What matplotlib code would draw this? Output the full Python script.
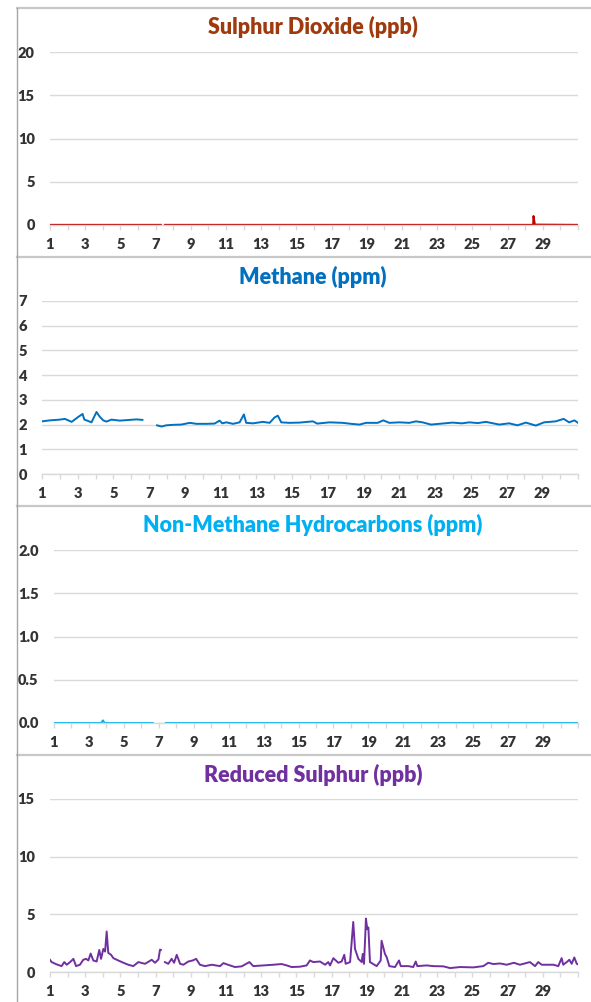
import numpy as np
from matplotlib import pyplot as plt
from matplotlib.lines import Line2D

plt.rcParams['font.family'] = ['Lato', 'DejaVu Sans']
plt.rcParams['font.weight'] = 'heavy'

# ---- data (day of month, value); NaN = gap in record ----
so2_day = [1.0, 7.3, 7.4, 7.53, 28.45, 28.47, 28.55, 31.0]
so2_val = [0.02, 0.02, np.nan, 0.02, 0.02, 1.04, 0.05, 0.02]

ch4_day = [1.0, 1.43, 2.0, 2.28, 2.66, 3.03, 3.27, 3.37, 3.53, 3.77, 4.05, 4.24, 4.43, 4.61,
           4.89, 5.36, 5.92, 6.29, 6.62, 7.0,
           7.44, 7.69, 7.96, 8.34, 8.8, 9.27, 9.64, 10.2, 10.66, 10.94, 11.09, 11.32, 11.69,
           12.06, 12.3, 12.43, 12.81, 13.36, 13.74, 14.02, 14.2, 14.39, 14.85, 15.41, 16.16,
           16.4, 17.09, 17.83, 18.3, 18.77, 19.14, 19.79, 20.1, 20.44, 21.0, 21.56, 21.93, 22.3,
           22.77, 23.23, 23.98, 24.5, 24.91, 25.4, 25.84, 26.59, 27.15, 27.61, 28.08, 28.64,
           29.1, 29.75, 30.2, 30.5, 30.8, 31.0]
ch4_val = [2.13, 2.17, 2.2, 2.23, 2.11, 2.31, 2.43, 2.2, 2.16, 2.09, 2.51, 2.31, 2.17, 2.12,
           2.2, 2.16, 2.19, 2.21, 2.19, np.nan,
           1.97, 1.92, 1.97, 1.99, 2.0, 2.07, 2.03, 2.03, 2.04, 2.16, 2.05, 2.09, 2.03,
           2.09, 2.41, 2.07, 2.05, 2.11, 2.07, 2.29, 2.36, 2.09, 2.07, 2.08, 2.13,
           2.04, 2.09, 2.07, 2.03, 2.0, 2.07, 2.07, 2.17, 2.07, 2.09, 2.07, 2.13, 2.09,
           2.0, 2.03, 2.08, 2.05, 2.09, 2.06, 2.11, 2.0, 2.05, 1.97, 2.08, 1.96,
           2.09, 2.13, 2.23, 2.09, 2.17, 2.07]

nmhc_day = [1.0, 3.7, 3.8, 3.9, 6.66, 7.0, 7.4, 31.0]
nmhc_val = [0.0, 0.0, 0.03, 0.0, 0.0, np.nan, 0.0, 0.0]

trs_day = [1.0, 1.09, 1.38, 1.66, 1.81, 1.95, 2.14, 2.33, 2.48, 2.7, 2.89, 3.05, 3.18, 3.31,
           3.46, 3.65, 3.8, 3.9, 4.03, 4.13, 4.22, 4.31, 4.47, 4.6, 4.88, 5.17, 5.45, 5.73,
           6.02, 6.4, 6.78, 6.97, 7.16, 7.25, 7.3, 7.4,
           7.53, 7.72, 7.91, 8.05, 8.2, 8.39, 8.58, 8.86, 9.11, 9.3, 9.52, 9.81, 10.19, 10.66,
           10.85, 11.23, 11.51, 11.89, 12.33, 12.55, 13.12, 13.69, 14.16, 14.45, 14.73, 15.2,
           15.58, 15.77, 15.96, 16.34, 16.63, 16.81, 16.91, 17.1, 17.38, 17.57, 17.72, 17.8,
           18.05, 18.23, 18.33, 18.52, 18.71, 18.77, 18.84, 18.92, 18.95, 19.03, 19.09, 19.18,
           19.56, 19.79, 19.84, 20.03, 20.13, 20.28, 20.6, 20.83, 20.93, 21.36, 21.64, 21.78,
           21.87, 22.4, 22.78, 23.35, 23.73, 24.3, 25.05, 25.62, 25.9, 26.19, 26.57, 26.95,
           27.36, 27.7, 28.27, 28.56, 28.74, 28.94, 29.6, 29.88, 30.07, 30.16, 30.36, 30.51,
           30.64, 30.79, 30.93, 31.0]
trs_val = [1.06, 0.86, 0.66, 0.51, 0.86, 0.63, 0.86, 1.14, 0.51, 0.63, 1.06, 1.14, 1.0, 1.6,
           1.0, 0.91, 1.91, 1.14, 2.0, 1.77, 3.51, 1.66, 1.49, 1.2, 1.0, 0.8, 0.63, 0.51,
           0.86, 0.71, 1.06, 0.8, 1.09, 1.94, 1.91, np.nan,
           0.86, 0.71, 1.14, 0.8, 1.49, 0.71, 0.63, 0.91, 1.0, 1.14, 0.63, 0.51, 0.63, 0.51,
           0.77, 0.57, 0.43, 0.49, 0.86, 0.51, 0.57, 0.63, 0.69, 0.57, 0.43, 0.46,
           0.57, 1.0, 0.86, 0.91, 0.63, 0.86, 0.57, 1.2, 0.8, 0.91, 1.49, 0.71,
           0.86, 4.34, 2.0, 1.14, 0.86, 1.57, 0.71, 3.43, 4.63, 3.71, 3.86, 0.86,
           0.51, 1.0, 2.71, 1.57, 1.29, 0.51, 0.43, 1.0, 0.51, 0.51, 0.43, 0.91,
           0.51, 0.57, 0.51, 0.49, 0.34, 0.43, 0.4, 0.51, 0.8, 0.69, 0.74, 0.63,
           0.8, 0.63, 0.86, 0.51, 0.86, 0.63, 0.63, 0.51, 1.2, 0.63, 0.86, 1.06,
           0.71, 1.26, 0.71, 0.66]

days = list(range(1, 32))
day_labels = [str(d) if d % 2 == 1 and d < 31 else '' for d in days]

W, H = 591, 1002
fig = plt.figure(figsize=(W / 100, H / 100), dpi=100)
GRID = '#D9D9D9'
TXT = '#333333'


def make_panel(x0, x1, y_top, y_bot, title, title_y, color, line_color, xs, ys, ymax, ystep, fmt):
    ax = fig.add_axes([x0 / W, 1 - y_bot / H, (x1 - x0) / W, (y_bot - y_top) / H])
    ax.plot(xs, ys, color=line_color, lw=1.4)
    ax.set_xlim(1, 31)
    ax.set_ylim(0, ymax)
    yt = np.arange(0, ymax + ystep / 2, ystep)
    ax.set_yticks(yt)
    ax.set_yticklabels([fmt.format(v) for v in yt])
    ax.set_xticks(days)
    ax.set_xticklabels(day_labels)
    for s in ['top', 'right', 'left']:
        ax.spines[s].set_visible(False)
    ax.spines['bottom'].set_color(GRID)
    ax.spines['bottom'].set_linewidth(1.0)
    ax.grid(axis='y', color=GRID, lw=1.0)
    ax.set_axisbelow(True)
    ax.tick_params(axis='y', length=0, pad=11, labelsize=10.5, labelcolor=TXT)
    ax.tick_params(axis='x', length=3.5, width=1, color=GRID, pad=6, labelsize=10.5,
                   labelcolor=TXT)
    fig.text(313 / W, 1 - title_y / H, title, color=color, fontsize=15.5, fontweight='heavy',
             ha='center', va='center')
    return ax


make_panel(50, 578, 52, 225, 'Sulphur Dioxide (ppb)', 27, '#9E3A0E', '#C00000',
           so2_day, so2_val, 20, 5, '{:.0f}')
make_panel(42, 578, 301, 474, 'Methane (ppm)', 277, '#0070C0', '#0070C0',
           ch4_day, ch4_val, 7, 1, '{:.0f}')
make_panel(54, 578, 550, 723, 'Non-Methane Hydrocarbons (ppm)', 525, '#00B0F0', '#00B0F0',
           nmhc_day, nmhc_val, 2.0, 0.5, '{:.1f}')
make_panel(50, 578, 799, 972, 'Reduced Sulphur (ppb)', 775, '#7030A0', '#7030A0',
           trs_day, trs_val, 15, 5, '{:.0f}')

# chart borders (stacked chart frames)
BORDER = '#C8C8C8'
for yb in [8, 257, 506, 755]:
    fig.add_artist(Line2D([17 / W, 1], [1 - yb / H, 1 - yb / H], color=BORDER, lw=1.6))
fig.add_artist(Line2D([17 / W, 17 / W], [0, 1 - 8 / H], color='#A6A6A6', lw=1.0))

fig.savefig('out.png', dpi=100)
